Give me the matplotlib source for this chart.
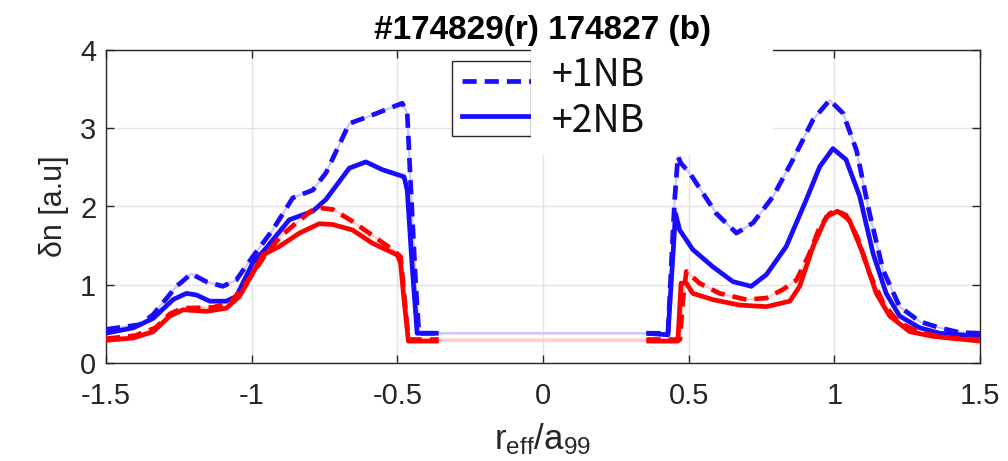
import numpy as np
import matplotlib.pyplot as plt
from matplotlib.patches import Rectangle
from matplotlib.lines import Line2D

plt.rcParams['font.family'] = ['Liberation Sans', 'DejaVu Sans']
plt.rcParams['mathtext.default'] = 'regular'

# 174827 (blue), +1NB -> dashed
x_b1 = [-1.5, -1.384, -1.338, -1.258, -1.207, -1.156, -1.099, -1.053, -0.996, -0.928,
        -0.859, -0.79, -0.745, -0.665, -0.585, -0.483, -0.466, -0.454, -0.437, -0.426,
        -0.358, 0.355, 0.429, 0.44, 0.452, 0.463, 0.474, 0.503, 0.549, 0.595, 0.664,
        0.721, 0.79, 0.858, 0.927, 0.984, 1.03, 1.076, 1.121, 1.167, 1.224, 1.293,
        1.362, 1.43, 1.5]
y_b1 = [0.43, 0.49, 0.62, 0.98, 1.14, 1.04, 0.98, 1.06, 1.36, 1.70,
        2.11, 2.21, 2.43, 3.06, 3.17, 3.32, 3.19, 2.26, 1.02, 0.38,
        0.38, 0.38, 0.38, 1.23, 2.09, 2.64, 2.55, 2.43, 2.17, 1.91, 1.66,
        1.79, 2.13, 2.60, 3.11, 3.36, 3.19, 2.72, 1.91, 1.19, 0.72, 0.53,
        0.45, 0.39, 0.38]

# 174827 (blue), +2NB -> solid
x_b2 = [-1.5, -1.406, -1.338, -1.27, -1.224, -1.19, -1.144, -1.087, -1.053, -0.996,
        -0.95, -0.871, -0.79, -0.745, -0.665, -0.608, -0.551, -0.477, -0.466, -0.449,
        -0.432, -0.358, 0.355, 0.429, 0.44, 0.455, 0.469, 0.514, 0.583, 0.652, 0.715,
        0.767, 0.835, 0.904, 0.95, 0.995, 1.04, 1.087, 1.133, 1.178, 1.224, 1.293,
        1.362, 1.5]
y_b2 = [0.38, 0.45, 0.57, 0.81, 0.89, 0.87, 0.79, 0.79, 0.85, 1.28,
        1.47, 1.83, 1.94, 2.09, 2.49, 2.57, 2.47, 2.38, 2.21, 1.23,
        0.38, 0.38, 0.38, 0.36, 1.02, 1.91, 1.70, 1.45, 1.23, 1.04, 0.98,
        1.13, 1.49, 2.09, 2.51, 2.74, 2.60, 2.13, 1.40, 0.89, 0.60, 0.45,
        0.38, 0.34]

# 174829 (red), +1NB -> dashed
x_r1 = [-1.5, -1.4, -1.33, -1.28, -1.236, -1.133, -1.07, -1.0, -0.95, -0.9,
        -0.85, -0.79, -0.76, -0.72, -0.654, -0.574, -0.517, -0.489, -0.477, -0.462,
        -0.358, 0.355, 0.47, 0.48, 0.492, 0.537, 0.606, 0.698, 0.767, 0.824,
        0.87, 0.915, 0.95, 0.984, 1.006, 1.04, 1.08, 1.12, 1.17, 1.22,
        1.3, 1.4, 1.5]
y_r1 = [0.31, 0.35, 0.45, 0.63, 0.70, 0.71, 0.78, 1.12, 1.40, 1.62,
        1.78, 1.96, 1.98, 1.96, 1.81, 1.60, 1.45, 1.36, 0.90, 0.30,
        0.30, 0.30, 0.30, 0.80, 1.17, 1.02, 0.89, 0.81, 0.83, 0.94,
        1.06, 1.40, 1.74, 1.91, 1.95, 1.89, 1.60, 1.15, 0.75, 0.52,
        0.38, 0.32, 0.30]

# 174829 (red), +2NB -> solid
x_r2 = [-1.5, -1.406, -1.338, -1.281, -1.235, -1.156, -1.087, -1.042, -0.996, -0.962,
        -0.905, -0.836, -0.768, -0.722, -0.654, -0.585, -0.5, -0.489, -0.477, -0.462,
        -0.358, 0.355, 0.463, 0.474, 0.492, 0.514, 0.583, 0.675, 0.767, 0.847,
        0.881, 0.927, 0.973, 1.011, 1.051, 1.098, 1.144, 1.19, 1.259, 1.339, 1.5]
y_r2 = [0.29, 0.32, 0.40, 0.60, 0.68, 0.66, 0.70, 0.85, 1.15, 1.38,
        1.49, 1.66, 1.78, 1.77, 1.70, 1.53, 1.38, 1.28, 0.81, 0.28,
        0.28, 0.28, 0.28, 1.02, 1.02, 0.89, 0.81, 0.74, 0.72, 0.79,
        0.98, 1.49, 1.87, 1.94, 1.83, 1.40, 0.89, 0.60, 0.40, 0.34, 0.28]

BLUE = '#1a0dff'
RED = '#ff0000'
FAINT_B = '#c8c8ff'
FAINT_R = '#ffd0d0'
W, H = 1008, 461


def fig_xy(px, py):
    return px / W, 1 - py / H


def plot_series(ax, x, y, color, faint, dashed):
    x = np.asarray(x)
    y = np.asarray(y)
    # faint line over the whole radius
    ax.plot(x, y, color=faint, lw=1.6, zorder=2)
    ls = dict(lw=3.4, color=color, zorder=3, solid_capstyle='butt')
    for m in (x < 0, x > 0):
        line, = ax.plot(x[m], y[m], **ls)
        if dashed:
            line.set_dashes((3.0, 1.7))


fig = plt.figure(figsize=(W / 100, H / 100), dpi=100)
ax = fig.add_axes([106 / W, 98 / H, 874 / W, 313 / H])

plot_series(ax, x_b1, y_b1, BLUE, FAINT_B, True)
plot_series(ax, x_b2, y_b2, BLUE, FAINT_B, False)
plot_series(ax, x_r1, y_r1, RED, FAINT_R, True)
plot_series(ax, x_r2, y_r2, RED, FAINT_R, False)

ax.set_xlim(-1.5, 1.5)
ax.set_ylim(0, 4)
ax.set_xticks([-1.5, -1, -0.5, 0, 0.5, 1, 1.5])
ax.set_xticklabels(['-1.5', '-1', '-0.5', '0', '0.5', '1', '1.5'])
ax.set_yticks([0, 1, 2, 3, 4])
ax.grid(True, color='#e3e3e3', lw=1.0, zorder=0)
ax.set_axisbelow(True)
for s in ax.spines.values():
    s.set_color('#262626')
    s.set_linewidth(1.0)
ax.tick_params(direction='in', length=6, width=1, color='#262626',
               top=True, right=True, labelsize=21, labelcolor='#262626')
ax.tick_params(axis='x', pad=14)
ax.tick_params(axis='y', pad=7)

ax.set_xlabel('r$_{eff}$/a$_{99}$', fontsize=25, color='#262626', labelpad=8)
ax.set_ylabel('δn [a.u]', fontsize=22, color='#262626', labelpad=8)
ax.set_title('#174829(r) 174827 (b)', fontsize=24, fontweight='bold', pad=8)

# legend box (partly hidden by the white label area)
x0, y0 = fig_xy(452, 136)
fig.add_artist(Rectangle((x0, y0), 79 / W, 75 / H, transform=fig.transFigure,
                         facecolor='white', edgecolor='#262626', lw=1.0, zorder=5))
lx = [fig_xy(462, 0)[0], fig_xy(533, 0)[0]]
l1 = Line2D(lx, [fig_xy(0, 81)[1]] * 2, transform=fig.transFigure, color=BLUE,
            lw=3.4, zorder=6)
l1.set_dashes((3.0, 1.7))
fig.add_artist(l1)
fig.add_artist(Line2D(lx, [fig_xy(0, 116)[1]] * 2, transform=fig.transFigure,
                      color=BLUE, lw=3.4, zorder=6))

x0, y0 = fig_xy(531, 155)
fig.add_artist(Rectangle((x0, y0), 242 / W, 108 / H, transform=fig.transFigure,
                         facecolor='white', edgecolor='none', zorder=7))
for label, py in [('+1NB', 76), ('+2NB', 121)]:
    fx, fy = fig_xy(552, py)
    fig.text(fx, fy, label, fontsize=27, va='center', ha='left', color='#111111',
             family=['Noto Sans CJK JP', 'DejaVu Sans'], zorder=8)

fig.savefig('out.png', dpi=100)
